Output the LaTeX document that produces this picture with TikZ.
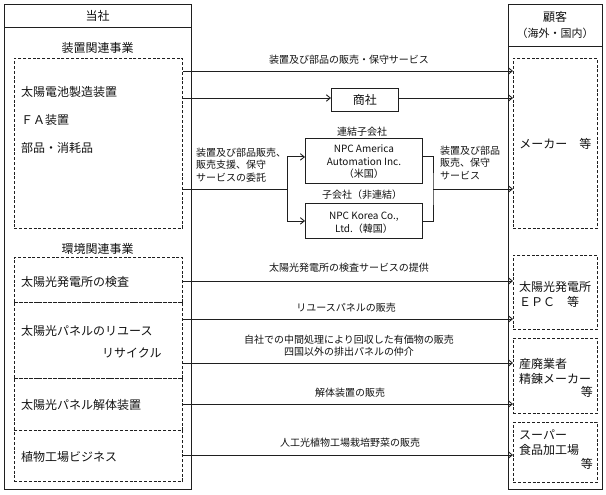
\documentclass[tikz,border=0pt]{standalone}
\usepackage{fontspec}
\setmainfont{Noto Sans CJK JP}
\usepackage{tikz}
\usetikzlibrary{arrows.meta,positioning,calc}
\definecolor{lineInk}{HTML}{1F1F1F}
\definecolor{textInk}{HTML}{111111}
\tikzset{
  >={Straight Barb[length=4pt,width=6.5pt]},
  solidBox/.style={draw=lineInk,line width=0.9pt,fill=none,inner sep=0pt,anchor=north west},
  dashBox/.style={draw=lineInk,line width=0.9pt,dash pattern=on 3pt off 1.8pt,
                  fill=none,inner sep=0pt,anchor=north west},
  bigTxt/.style={font=\fontsize{12}{15}\selectfont,text=textInk,inner sep=0pt},
  midTxt/.style={font=\fontsize{11}{14}\selectfont,text=textInk,inner sep=0pt},
  smallTxt/.style={font=\fontsize{10}{12.5}\selectfont,text=textInk,inner sep=0pt},
  flow/.style={->,line width=0.9pt,lineInk},
  link/.style={line width=0.9pt,lineInk},
}
\begin{document}
\begin{tikzpicture}[x=1pt,y=-1pt]
\useasboundingbox (0,0) rectangle (606,495);

% Company side (left column).
\node[solidBox,minimum width=187pt,minimum height=485pt] (comp) at (4,4) {};
\coordinate (compHead) at (4,27);
\draw[link] (compHead) -- (compHead -| comp.east);
\node[bigTxt] (compTitle) at (97.5,16) {当社};

\node[bigTxt] (equipTitle) at (97.5,48) {装置関連事業};
\node[dashBox,minimum width=168pt,minimum height=170pt] (equip) at (14,58) {};
\node[bigTxt,anchor=west] (solarMfg) at (21,92)  {太陽電池製造装置};
\node[bigTxt,anchor=west] (faEquip)  at (21,120) {ＦＡ装置};
\node[bigTxt,anchor=west] (parts)    at (21,148) {部品・消耗品};

\node[bigTxt] (envTitle) at (97.5,249) {環境関連事業};
\node[dashBox,minimum width=168pt,minimum height=45pt] (envA) at (14,257) {};
\node[dashBox,minimum width=168pt,minimum height=76pt] (envB) at (14,302) {};
\node[dashBox,minimum width=168pt,minimum height=52pt] (envC) at (14,378) {};
\node[dashBox,minimum width=168pt,minimum height=51pt] (envD) at (14,430) {};
\node[bigTxt,anchor=west] (inspect)  at (21,282) {太陽光発電所の検査};
\node[bigTxt,anchor=west] (reuse)    at (21,331) {太陽光パネルのリユース};
\node[bigTxt,anchor=west] (recycle)  at (102,353) {リサイクル};
\node[bigTxt,anchor=west] (dismantle) at (21,405) {太陽光パネル解体装置};
\node[bigTxt,anchor=west] (plant)    at (21,457) {植物工場ビジネス};

% Customer side (right column).
\node[solidBox,minimum width=94pt,minimum height=485pt] (cust) at (508,4) {};
\coordinate (custHead) at (508,46);
\draw[link] (custHead) -- (custHead -| cust.east);
\node[bigTxt] (custTitle) at (555,17) {顧客};
\node[midTxt] (custSub) at (555,33) {（海外・国内）};

\node[dashBox,minimum width=84pt,minimum height=170pt] (mkr)   at (513,58)  {};
\node[dashBox,minimum width=84pt,minimum height=74pt]  (epc)   at (513,255) {};
\node[dashBox,minimum width=84pt,minimum height=75pt]  (waste) at (513,338) {};
\node[dashBox,minimum width=84pt,minimum height=60pt]  (super) at (513,422) {};
\node[bigTxt] (mkrTxt) at (mkr.center) {メーカー　等};
\node[bigTxt,anchor=west,align=left] (epcTxt) at (519,294) {太陽光発電所\\ＥＰＣ　等};
\node[bigTxt,anchor=west,align=left] (wasteTxt) at (519,371) {産廃業者\\精錬メーカー};
\node[bigTxt,anchor=east] (wasteEtc) at (593,392) {等};
\node[bigTxt,anchor=west,align=left] (superTxt) at (519,443) {スーパー\\食品加工場};
\node[bigTxt,anchor=east] (superEtc) at (593,464) {等};

% Middle: trading company and subsidiaries.
\node[solidBox,minimum width=67pt,minimum height=23pt] (shosha) at (331,88) {};
\node[bigTxt] at (shosha.center) {商社};
\node[solidBox,minimum width=117pt,minimum height=45pt] (npcUS) at (305,138) {};
\node[smallTxt,align=center] at ([yshift=-1pt]npcUS.center) {NPC America\\Automation Inc.\\（米国）};
\node[smallTxt] (usTag) at (362,132) {連結子会社};
\node[solidBox,minimum width=117pt,minimum height=35pt] (npcKR) at (305,203) {};
\node[smallTxt,align=center] at ([yshift=-2pt]npcKR.center) {NPC Korea Co.,\\Ltd.（韓国）};
\node[smallTxt] (krTag) at (362,195) {子会社（非連結）};

% Equipment business flows.
\coordinate (rowDirect) at (0,71);
\coordinate (rowTrade)  at (0,98);
\coordinate (splitL) at (287,189);
\coordinate (joinR)  at (433,189);
\coordinate (usIn)  at ([yshift=4pt]npcUS.west);
\coordinate (usOut) at ([yshift=4pt]npcUS.east);

\draw[flow] (equip.east |- rowDirect) -- (mkr.west |- rowDirect);
\node[smallTxt] (lblDirect) at (349,60) {装置及び部品の販売・保守サービス};
\draw[flow] (equip.east |- rowTrade) -- (shosha.west |- rowTrade);
\draw[flow] (shosha.east |- rowTrade) -- (mkr.west |- rowTrade);

\draw[link] (equip.east |- splitL) -- (splitL);
\draw[flow] (splitL) |- (usIn);
\draw[flow] (splitL) |- (npcKR.west);
\draw[link] (usOut) -| (joinR) |- (npcKR.east);
\draw[flow] (joinR) -- (mkr.west |- joinR);
\node[smallTxt,anchor=west,align=left] (lblEntrust) at (196,165)
  {装置及び部品販売、\\販売支援、保守\\サービスの委託};
\node[smallTxt,anchor=west,align=left] (lblSubSale) at (440,163)
  {装置及び部品\\販売、保守\\サービス};

% Environment business flows.
\coordinate (rowInsp)  at (0,281);
\coordinate (rowReuse) at (0,319);
\coordinate (rowRecyc) at (0,363);
\coordinate (rowDism)  at (0,404);
\coordinate (rowPlant) at (0,455);

\draw[flow] (envA.east |- rowInsp)  -- (epc.west |- rowInsp);
\draw[flow] (envB.east |- rowReuse) -- (epc.west |- rowReuse);
\draw[flow] (envB.east |- rowRecyc) -- (waste.west |- rowRecyc);
\draw[flow] (envC.east |- rowDism)  -- (waste.west |- rowDism);
\draw[flow] (envD.east |- rowPlant) -- (super.west |- rowPlant);

\node[smallTxt] (lblInsp)  at (349,268) {太陽光発電所の検査サービスの提供};
\node[smallTxt] (lblReuse) at (346,308) {リユースパネルの販売};
\node[smallTxt,align=center] (lblRecyc) at (349,345.5)
  {自社での中間処理により回収した有価物の販売\\四国以外の排出パネルの仲介};
\node[smallTxt] (lblDism)  at (350,393) {解体装置の販売};
\node[smallTxt] (lblPlant) at (350,443) {人工光植物工場栽培野菜の販売};

\end{tikzpicture}
\end{document}
